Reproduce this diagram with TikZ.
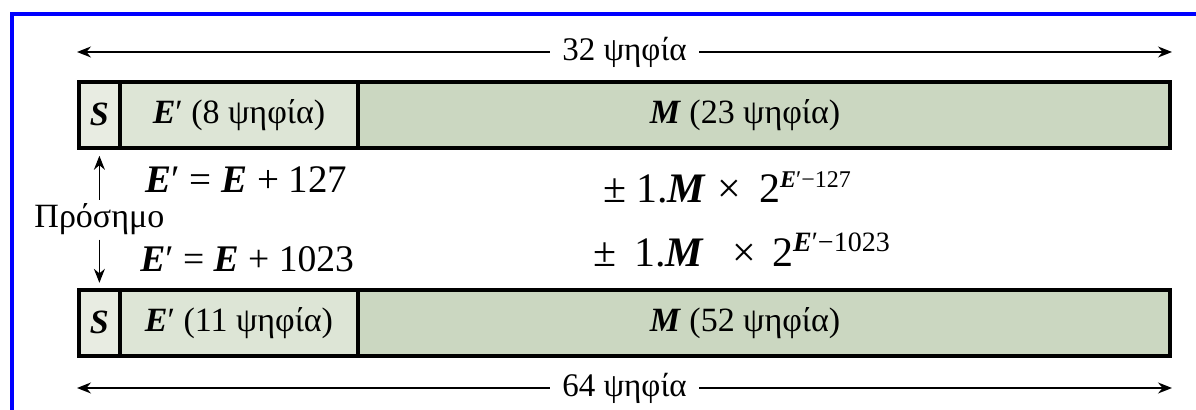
\documentclass[tikz,border=0pt]{standalone}
\usepackage{fontspec}
\setmainfont{Liberation Serif}
\usetikzlibrary{arrows.meta,positioning}
\definecolor{sbox}{RGB}{232,236,226}
\definecolor{ebox}{RGB}{221,229,214}
\definecolor{mbox}{RGB}{203,215,193}
\newcommand{\bi}[1]{\textbf{\textit{#1}}}

\begin{document}
\begin{tikzpicture}[x=0.5pt,y=-0.5pt,node distance=0pt,
  cell/.style={draw,line width=1.8pt,outer sep=0pt,inner sep=0pt,minimum height=33pt,font=\fontsize{17}{19}\selectfont,fill=#1},
  dim/.style={{Stealth[length=7pt,width=5.5pt]}-{Stealth[length=7pt,width=5.5pt]},line width=0.7pt},
  sgn/.style={-{Stealth[length=7pt,width=5.5pt]},line width=0.7pt},
  dimlbl/.style={fill=white,inner xsep=6pt,font=\fontsize{16.5}{18}\selectfont},
  eqn/.style={anchor=base west,inner sep=0pt,font=\fontsize{19.5}{22}\selectfont}]
  \useasboundingbox (0,0) rectangle (1196,410);
  \draw[blue,line width=1.6pt] (12,410) -- (12,14) -- (1196,14);
  % 32 bits
  \coordinate (d32l) at (77,52);
  \coordinate (d32r) at (1172,52);
  \draw[dim] (d32l) -- node[dimlbl] (n32) {32 ψηφία} (d32r);
  \node[cell=sbox,minimum width=20.6pt,anchor=north west] (s32) at (78.8,81.8) {\bi{S}};
  \node[cell=ebox,minimum width=119pt,right=of s32] (e32) {\bi{E}′ (8 ψηφία)};
  \node[cell=mbox,minimum width=406pt,right=of e32] (m32) {\bi{M} (23 ψηφία)\rule{19pt}{0pt}};
  % 64 bits
  \node[cell=sbox,minimum width=20.6pt,anchor=north west] (s64) at (78.8,289.8) {\bi{S}};
  \node[cell=ebox,minimum width=119pt,right=of s64] (e64) {\bi{E}′ (11 ψηφία)};
  \node[cell=mbox,minimum width=406pt,right=of e64] (m64) {\bi{M} (52 ψηφία)\rule{19pt}{0pt}};
  \coordinate (d64l) at (77,388);
  \coordinate (d64r) at (1172,388);
  \draw[dim] (d64l) -- node[dimlbl] (n64) {64 ψηφία} (d64r);
  % sign
  \node[anchor=base,inner sep=2pt,font=\fontsize{17}{20}\selectfont] (sign) at (s32.south |- 0,228) {Πρόσημο};
  \draw[sgn,shorten >=4pt] (sign.north) -- (s32.south);
  \draw[sgn,shorten >=3.5pt] (sign.south) -- (s64.north);
  % formulas
  \node[eqn] (b32) at (145,193) {\bi{E}′ = \bi{E} + 127};
  \node[eqn,font=\fontsize{18.8}{22}\selectfont] (b64) at (140,272) {\bi{E}′ = \bi{E} + 1023};
  \node[eqn,font=\fontsize{21}{24}\selectfont] (v32) at (603,203)
    {±\hspace{5pt}1.\bi{M}\hspace{5.5pt}×\hspace{9pt}2\raisebox{7.5pt}{\fontsize{12}{14}\selectfont\bi{E}′−127}};
  \node[eqn,font=\fontsize{21}{24}\selectfont] (v64) at (593,267)
    {±\hspace{9pt}1.\bi{M}\hspace{14pt}×\hspace{8pt}2\raisebox{7.5pt}{\fontsize{14}{16}\selectfont\bi{E}′−1023}};
\end{tikzpicture}
\end{document}
